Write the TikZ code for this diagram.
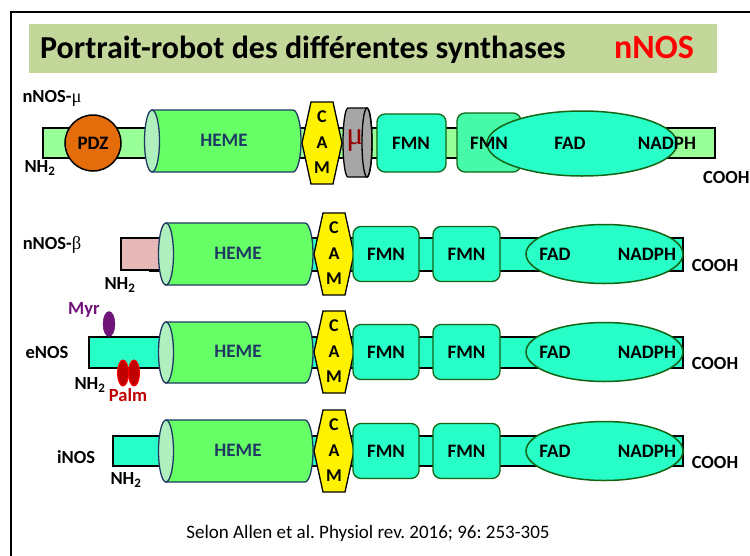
\documentclass[tikz,border=0pt]{standalone}
\usepackage{fontspec}
\setmainfont{Carlito}
\newfontfamily\greekFont{Liberation Serif}
\definecolor{titleGreen}{RGB}{196,215,155}
\definecolor{hemeGreen}{RGB}{102,255,102}
\definecolor{hemeCap}{RGB}{175,240,190}
\definecolor{hemeBorder}{RGB}{31,56,100}
\definecolor{barLight}{RGB}{153,255,153}
\definecolor{aqua}{RGB}{40,255,200}
\definecolor{aquaGreen}{RGB}{70,250,170}
\definecolor{domainBorder}{RGB}{20,100,20}
\definecolor{pdzOrange}{RGB}{228,108,10}
\definecolor{muGray}{RGB}{166,166,166}
\definecolor{muRed}{RGB}{150,0,0}
\definecolor{pinkBox}{RGB}{230,185,184}
\definecolor{myrPurple}{RGB}{112,20,120}
\definecolor{palmRed}{RGB}{192,0,0}
\tikzstyle{pixels} = [x = 1pt, y = -1pt]
\tikzstyle{barStyle} = [draw=black, line width=1.5pt]
\tikzstyle{hemeStyle} = [draw=hemeBorder, fill=hemeGreen, line width=1.3pt]
\tikzstyle{hemeCapStyle} = [draw=hemeBorder, fill=hemeCap, line width=1.3pt]
\tikzstyle{camStyle} = [draw=black, fill=yellow, line width=1.3pt]
\tikzstyle{fmnStyle} = [draw=domainBorder, rounded corners = 8pt, line width=1.3pt]
\tikzstyle{fadStyle} = [draw=domainBorder, fill=aqua, line width=1.5pt]
\tikzstyle{domainText} = [font=\fontsize{19}{19}\bfseries\selectfont, inner sep=0pt]
\tikzstyle{hemeText} = [domainText, text=hemeBorder]
\tikzstyle{camText} = [font=\fontsize{18}{18}\bfseries\selectfont, inner sep=0pt]
\tikzstyle{labelText} = [font=\fontsize{18.5}{18.5}\bfseries\selectfont, inner sep=0pt]
\tikzstyle{titleText} = [font=\fontsize{32}{32}\bfseries\selectfont, inner sep=0pt, anchor=base west]
\newcommand{\NHtwo}{NH\textsubscript{2}}
\newcommand{\proteinBar}[5]{\filldraw [barStyle, fill=#5] (#1, #3) rectangle (#2, #4);}
\newcommand{\hemeCylinder}[5]{
  \pgfmathsetmacro{\hemeMid}{(#3 + #4) / 2}
  \pgfmathsetmacro{\hemeRad}{(#4 - #3) / 2}
  \filldraw [hemeStyle] (#1 + 8, #3) -- (#2 - 8, #3) arc (-90:90:8 and \hemeRad) -- (#1 + 8, #4) -- cycle;
  \filldraw [hemeCapStyle] (#1 + 8, \hemeMid) ellipse (7.5 and \hemeRad);
  \node [hemeText] (#5) at (#1 + 80, \hemeMid - 1) {HEME};
}
\newcommand{\camHex}[3]{
  \filldraw [camStyle] (#1 - 11, #2 - 41) -- (#1 + 11, #2 - 41) -- (#1 + 20, #2) -- (#1 + 11, #2 + 41) -- (#1 - 11, #2 + 41) -- (#1 - 20, #2) -- cycle;
  \node [camText] (#3C) at (#1, #2 - 26) {C};
  \node [camText] (#3A) at (#1, #2) {A};
  \node [camText] (#3M) at (#1, #2 + 25) {M};
}
\newcommand{\fmnBox}[6]{
  \filldraw [fmnStyle, fill=#6] (#1, #3) rectangle (#2, #4);
}
\newcommand{\reductase}[2]{
  \camHex{334}{#1}{#2cam}
  \fmnBox{353}{419}{#1 - 27.5}{#1 + 27.5}{#2fmnA}{aqua}
  \fmnBox{433}{500}{#1 - 27.5}{#1 + 27.5}{#2fmnB}{aqua}
  \filldraw [fadStyle] (604.5, #1) ellipse (78.5 and 29.5);
  \node [domainText] (#2fmnA) at (386, #1) {FMN};
  \node [domainText] (#2fmnB) at (466.5, #1) {FMN};
  \node [domainText] (#2fad) at (555, #1) {FAD};
  \node [domainText] (#2nadph) at (647, #1) {NADPH};
  \node [labelText] (#2cooh) at (715, #1 + 11) {COOH};
}

\begin{document}
\begin{tikzpicture}[pixels]
  \useasboundingbox (0,0) rectangle (750,555);
  \clip (0,0) rectangle (750,555);
  \fill [white] (0,0) rectangle (750,555);
  \draw [line width=2pt] (11,12) rectangle (770,575);

  % title
  \fill [titleGreen] (29,24) rectangle (717,73);
  \node [titleText] (title) at (40,58) {Portrait-robot des différentes synthases};
  \node [titleText, text=red, font=\fontsize{34}{34}\bfseries\selectfont] (titleNos) at (614,58) {nNOS};

  % nNOS-mu
  \proteinBar{43}{715}{128}{158}{barLight}
  \filldraw [draw=black, fill=pdzOrange, line width=1.5pt] (93,143) circle (28);
  \node [domainText] (pdz) at (93,143) {PDZ};
  \hemeCylinder{144}{301}{110}{172}{hemeMu}
  \camHex{322}{143}{muCam}
  \filldraw [draw=black, fill=muGray, line width=1.3pt] (348,108) -- (367,108) arc (-90:90:5 and 34.5) -- (348,177) arc (90:270:5 and 34.5) -- cycle;
  \draw [line width=1.3pt] (367,142.5) ellipse (5 and 34.5);
  \node [font=\greekFont\fontsize{32}{32}\selectfont, text=muRed, inner sep=0pt] (muSym) at (355,141) {μ};
  \fmnBox{377}{446}{114}{172}{muFmnA}{aqua}
  \fmnBox{457}{521}{113}{172}{muFmnB}{aquaGreen}
  \filldraw [fadStyle] (582,143.5) ellipse (95 and 32.5);
  \node [domainText] (muFmnA) at (411,143) {FMN};
  \node [domainText] (muFmnB) at (489,143) {FMN};
  \node [domainText] (muFad) at (570,143) {FAD};
  \node [domainText] (muNadph) at (667,143) {NADPH};
  \node [labelText] (muName) at (52,98) {nNOS-{\greekFont\mdseries μ}};
  \node [labelText] (muNh) at (40,168) {\NHtwo};
  \node [labelText, anchor=west] (muCooh) at (703,177) {COOH};

  % nNOS-beta
  \proteinBar{150}{683}{238}{271}{aqua}
  \filldraw [barStyle, fill=pinkBox] (121,238) rectangle (160,270);
  \hemeCylinder{158}{313}{223}{285}{hemeBeta}
  \reductase{254}{beta}
  \node [labelText] (betaName) at (52,245) {nNOS-{\greekFont\mdseries β}};
  \node [labelText] (betaNh) at (120,285) {\NHtwo};

  % eNOS
  \proteinBar{89}{683}{337}{368}{aqua}
  \filldraw [draw=myrPurple, fill=myrPurple] (109,324) ellipse (6 and 12.5);
  \filldraw [draw=red, fill=palmRed, line width=1pt] (123,373) ellipse (5.5 and 13);
  \filldraw [draw=red, fill=palmRed, line width=1pt] (134,373) ellipse (5.5 and 13);
  \hemeCylinder{158}{313}{322}{383}{hemeE}
  \reductase{352}{e}
  \node [labelText] (eName) at (47,352) {eNOS};
  \node [labelText, text=myrPurple] (myr) at (84,310) {Myr};
  \node [labelText] (eNh) at (90,385) {\NHtwo};
  \node [labelText, text=palmRed] (palm) at (128,395) {Palm};

  % iNOS
  \proteinBar{113}{683}{436}{466}{aqua}
  \hemeCylinder{158}{313}{420}{482}{hemeI}
  \reductase{451}{i}
  \node [labelText] (iName) at (76,457) {iNOS};
  \node [labelText] (iNh) at (126,480) {\NHtwo};

  \node [font=\fontsize{19}{19}\selectfont, inner sep=0pt, anchor=base] (source) at (368,538) {\frenchspacing Selon Allen et al. Physiol rev. 2016; 96: 253-305};
\end{tikzpicture}
\end{document}
